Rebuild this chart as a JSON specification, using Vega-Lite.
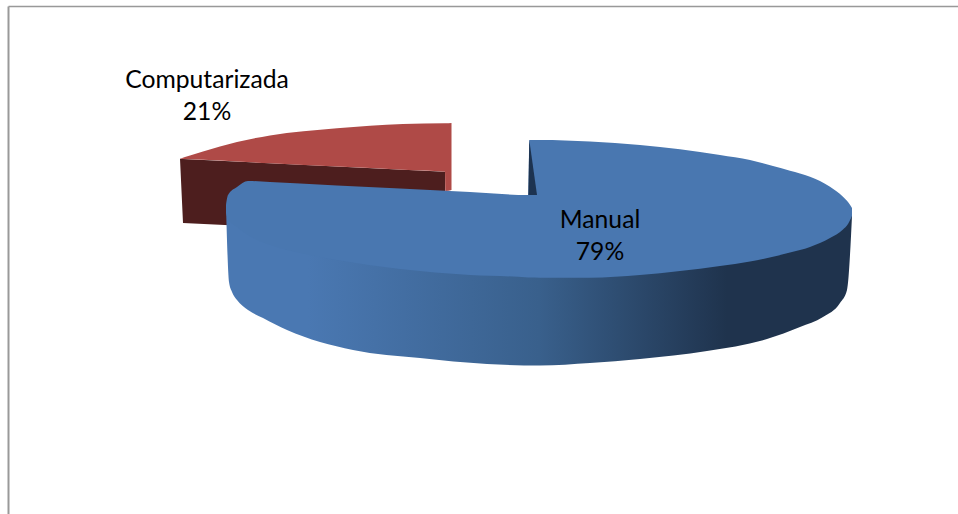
{"$schema":"https://vega.github.io/schema/vega-lite/v6.json","width":950,"height":508,"autosize":"none","padding":{"left":8,"top":6,"right":0,"bottom":0},"background":"white","config":{"view":{"stroke":null}},
"datasets":{"shape":[
{"part":"darkred","x":180,"y":158.7,"y2":158.7},{"part":"darkred","x":183,"y":159,"y2":223},{"part":"darkred","x":445,"y":171.7,"y2":236},
{"part":"redtop","x":180,"y":158.7,"y2":158.7},{"part":"redtop","x":190,"y":155.5,"y2":159.2},{"part":"redtop","x":203,"y":151.5,"y2":159.8},{"part":"redtop","x":237,"y":142,"y2":161.5},{"part":"redtop","x":270,"y":135.5,"y2":163.2},{"part":"redtop","x":337,"y":128.3,"y2":166.5},{"part":"redtop","x":403,"y":124,"y2":169.7},{"part":"redtop","x":445,"y":123.2,"y2":171.7},{"part":"redtop","x":445.4,"y":123.2,"y2":191},{"part":"redtop","x":451.5,"y":123,"y2":190},
{"part":"wall","x":226,"y":206,"y2":206},{"part":"wall","x":229,"y":213,"y2":282},{"part":"wall","x":232,"y":220,"y2":292},{"part":"wall","x":237,"y":225,"y2":300},{"part":"wall","x":248,"y":232,"y2":310},{"part":"wall","x":263,"y":240,"y2":318},{"part":"wall","x":287,"y":248,"y2":330},{"part":"wall","x":353,"y":260,"y2":350},{"part":"wall","x":420,"y":268,"y2":358},{"part":"wall","x":487,"y":274,"y2":364},{"part":"wall","x":540,"y":275,"y2":365.5},{"part":"wall","x":590,"y":274,"y2":363},{"part":"wall","x":640,"y":270,"y2":359},{"part":"wall","x":707,"y":262,"y2":351},{"part":"wall","x":767,"y":252,"y2":339},{"part":"wall","x":800,"y":244,"y2":327},{"part":"wall","x":823,"y":234,"y2":317},{"part":"wall","x":840,"y":226,"y2":303},{"part":"wall","x":847,"y":220,"y2":290},{"part":"wall","x":852,"y":212,"y2":216},
{"part":"top","x":226,"y":205,"y2":213},{"part":"top","x":228,"y":195,"y2":219},{"part":"top","x":237,"y":187,"y2":227},{"part":"top","x":248,"y":181,"y2":235},{"part":"top","x":270,"y":182,"y2":245},{"part":"top","x":300,"y":183.6,"y2":253},{"part":"top","x":337,"y":185.4,"y2":260},{"part":"top","x":400,"y":188.6,"y2":269},{"part":"top","x":470,"y":192.1,"y2":275},{"part":"top","x":528.3,"y":195,"y2":277.5},{"part":"top","x":529.3,"y":140,"y2":277.6},{"part":"top","x":540,"y":140,"y2":277.7},{"part":"top","x":590,"y":141.5,"y2":277.7},{"part":"top","x":640,"y":145,"y2":275},{"part":"top","x":680,"y":149.3,"y2":271},{"part":"top","x":720,"y":155,"y2":266},{"part":"top","x":750,"y":160,"y2":261.5},{"part":"top","x":773,"y":166,"y2":256.7},{"part":"top","x":790,"y":170.7,"y2":252.5},{"part":"top","x":810,"y":176.7,"y2":247},{"part":"top","x":830,"y":186.7,"y2":238},{"part":"top","x":843,"y":196.7,"y2":229.5},{"part":"top","x":848,"y":202,"y2":224},{"part":"top","x":852,"y":208,"y2":216},
{"part":"notch","x":528.3,"y":195,"y2":195},{"part":"notch","x":529.3,"y":140,"y2":195},{"part":"notch","x":537,"y":195,"y2":195}
],
"labels":[{"text":"Computarizada","x":207,"y":88},{"text":"21%","x":207,"y":120},{"text":"Manual","x":600,"y":228},{"text":"79%","x":600,"y":260}]},
"data":{"name":"shape"},
"encoding":{"x":{"field":"x","type":"quantitative","scale":{"domain":[8,958],"nice":false,"zero":false},"axis":{"orient":"top","title":null,"labels":false,"ticks":false,"grid":false,"domainColor":"#999999","domainWidth":1.5}},"y":{"field":"y","type":"quantitative","scale":{"domain":[514,6],"nice":false,"zero":false},"axis":{"orient":"left","title":null,"labels":false,"ticks":false,"grid":false,"domainColor":"#999999","domainWidth":2}}},
"layer":[
{"transform":[{"filter":"datum.part==='darkred'"}],"mark":{"type":"area","color":"#4D1E1E"},"encoding":{"y2":{"field":"y2"}}},
{"transform":[{"filter":"datum.part==='redtop'"}],"mark":{"type":"area","color":"#AF4A47","interpolate":"monotone"},"encoding":{"y2":{"field":"y2"}}},
{"transform":[{"filter":"datum.part==='wall'"}],"mark":{"type":"area","interpolate":"monotone","color":{"gradient":"linear","x1":0,"y1":0,"x2":1,"y2":0,"stops":[{"offset":0,"color":"#4A78B2"},{"offset":0.13,"color":"#4A78B2"},{"offset":0.5,"color":"#39608C"},{"offset":0.8,"color":"#1F334D"},{"offset":1,"color":"#1F334D"}]}},"encoding":{"y2":{"field":"y2"}}},
{"transform":[{"filter":"datum.part==='top'"}],"mark":{"type":"area","color":"#4977B0","interpolate":"monotone"},"encoding":{"y2":{"field":"y2"}}},
{"transform":[{"filter":"datum.part==='notch'"}],"mark":{"type":"area","color":"#1D3350"},"encoding":{"y2":{"field":"y2"}}},
{"data":{"name":"labels"},"mark":{"type":"text","font":"Lato","fontSize":24.7,"color":"#000000","align":"center","baseline":"alphabetic"},"encoding":{"text":{"field":"text"}}}
]}
